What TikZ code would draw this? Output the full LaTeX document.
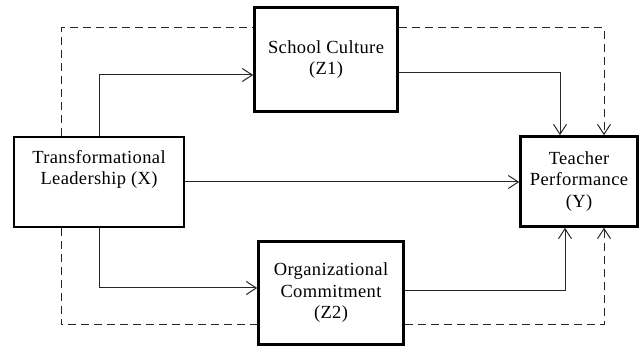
\documentclass[tikz,border=0pt]{standalone}
\usepackage{fontspec}
\setmainfont[LetterSpace=2]{Liberation Serif}
\usetikzlibrary{arrows.meta}
\begin{document}
\begin{tikzpicture}[x=1pt,y=-1pt,
  box/.style={draw=black,line width=2.6pt,fill=white,align=center,inner sep=0pt,
    font=\fontsize{18.5}{21.5}\selectfont},
  txt/.style={align=center,inner sep=0pt,font=\fontsize{18.5}{21.5}\selectfont},
  conn/.style={draw=black!85,line width=1pt},
  arr/.style={conn,-{Straight Barb[length=10pt,width=13pt,line width=1pt]}},
  dsh/.style={conn,dash pattern=on 8pt off 5pt}]
\useasboundingbox (0,0) rectangle (640,347);
\node[box,minimum width=170pt,minimum height=90pt] (X) at (99,182) {};
\node[txt] (Xt) at (99,169.5) {Transformational\\Leadership (X)};
\node[box,minimum width=143pt,minimum height=104pt] (Z1) at (326,59.5) {School Culture\\(Z1)};
\node[box,minimum width=117pt,minimum height=90pt] (Y) at (579,181.5) {Teacher\\Performance\\(Y)};
\node[box,minimum width=145pt,minimum height=103pt] (Z2) at (331,293) {Organizational\\Commitment\\(Z2)};
\coordinate (cL) at (61,28);
\coordinate (cR) at (604,28);
\coordinate (cLb) at (61,325);
\coordinate (cRb) at (604,325);
\coordinate (a1) at (99,75);
\coordinate (a2) at (560,73);
\coordinate (a3) at (99,288);
\coordinate (a4) at (565,291);
\draw[dsh] (X.north -| cL) -- (cL) -- (Z1.west |- cL);
\draw[dsh,-{Straight Barb[length=10pt,width=13pt,line width=1pt]}] (Z1.east |- cR) -- (cR) -- (Y.north -| cR);
\draw[dsh] (X.south -| cLb) -- (cLb) -- (Z2.west |- cLb);
\draw[dsh,-{Straight Barb[length=10pt,width=13pt,line width=1pt]}] (Z2.east |- cRb) -- (cRb) -- (Y.south -| cRb);
\draw[arr] (X.north) |- (Z1.west |- a1);
\draw[arr] (Z1.east |- a2) -| (Y.north -| a2);
\draw[arr] (X.east) -- (X.east -| Y.west);
\draw[arr] (X.south) |- (Z2.west |- a3);
\draw[arr] (Z2.east |- a4) -| (Y.south -| a4);
\end{tikzpicture}
\end{document}
